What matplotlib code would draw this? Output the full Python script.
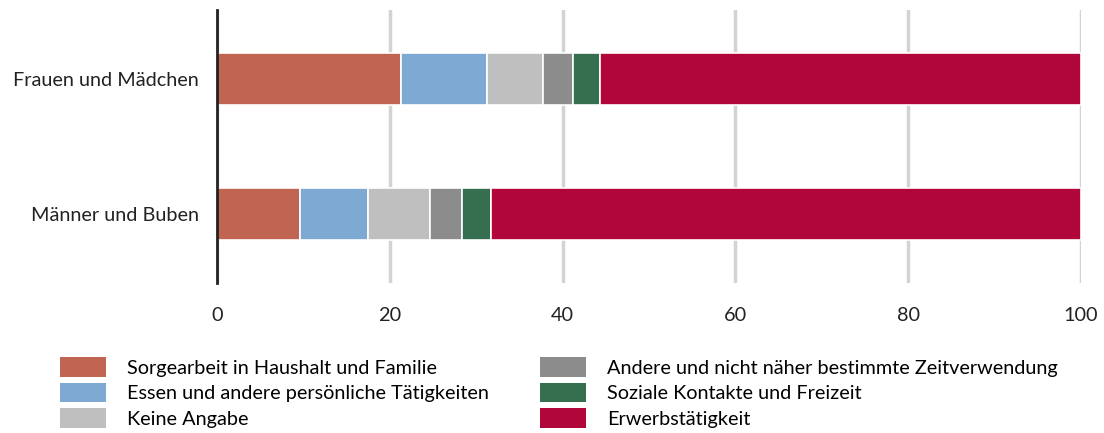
import numpy as np
import matplotlib
matplotlib.use("Agg")
import matplotlib.pyplot as plt
from matplotlib.patches import Patch

plt.rcParams['font.family'] = ['Lato', 'DejaVu Sans']

groups = ["Frauen und Mädchen", "Männer und Buben"]
categories = [
    "Sorgearbeit in Haushalt und Familie",
    "Essen und andere persönliche Tätigkeiten",
    "Keine Angabe",
    "Andere und nicht näher bestimmte Zeitverwendung",
    "Soziale Kontakte und Freizeit",
    "Erwerbstätigkeit",
]
frauen = [21.3, 9.9, 6.5, 3.5, 3.1, 55.7]
maenner = [9.6, 7.9, 7.2, 3.6, 3.4, 68.3]
colors = ["#BF6551", "#7DA9D3", "#BFBFBF", "#8C8C8C", "#356F4F", "#B0063A"]
xticks = [0, 20, 40, 60, 80, 100]

values = np.array([frauen, maenner])
fs = 14.3

fig = plt.figure(figsize=(11.04, 4.33), dpi=100)
ax = fig.add_axes([217 / 1104, 1 - 283 / 433, (1081 - 217) / 1104, 273 / 433])

y = np.arange(len(groups))
left = np.zeros(len(groups))
for i, (cat, col) in enumerate(zip(categories, colors)):
    ax.barh(y, values[:, i], left=left, height=0.39, color=col,
            edgecolor='white', linewidth=1.2, zorder=3, label=cat)
    left += values[:, i]

ax.set_xlim(0, 100)
ax.set_ylim(1.51, -0.51)
ax.set_yticks(y)
ax.set_yticklabels(groups, fontsize=fs, color='#222222')
ax.set_xticks(xticks)
ax.set_xticklabels([str(t) for t in xticks], fontsize=fs, color='#222222')
ax.tick_params(axis='y', length=0, pad=13)
ax.tick_params(axis='x', length=0, pad=17)

ax.grid(axis='x', color='#D3D3D3', linewidth=2.5, zorder=0)
for side in ['top', 'right', 'bottom']:
    ax.spines[side].set_visible(False)
ax.spines['left'].set_color('#222222')
ax.spines['left'].set_linewidth(2)
ax.spines['left'].set_zorder(4)

handles = [Patch(facecolor=c, edgecolor='none') for c in colors]
legend_kw = dict(loc='upper left', frameon=False, fontsize=fs, borderpad=0,
                 handlelength=2.3, handleheight=1.15, handletextpad=1.1,
                 labelspacing=0.3)
leg1 = fig.legend(handles[:3], categories[:3],
                  bbox_to_anchor=(50 / 1104, 1 - 347 / 433), **legend_kw)
leg2 = fig.legend(handles[3:], categories[3:],
                  bbox_to_anchor=(530 / 1104, 1 - 347 / 433), **legend_kw)

fig.savefig("out.png", dpi=100)
